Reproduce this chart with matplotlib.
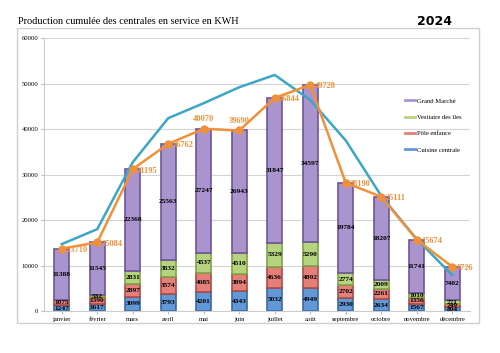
import numpy as np
import matplotlib.pyplot as plt
from matplotlib.patches import Rectangle

months = ["janvier", "février", "mars", "avril", "mai", "juin", "juillet",
          "août", "septembre", "octobre", "novembre", "décembre"]

# stacked series (bottom -> top)
cuisine = [1247, 1617, 3099, 3793, 4201, 4343, 5032, 4949, 2930, 2634, 1567, 804]
pole = [1075, 1390, 2897, 3574, 4085, 3894, 4636, 4892, 2702, 2261, 1356, 749]
vestiaire = [0, 532, 2831, 3832, 4537, 4510, 5329, 5290, 2774, 2009, 1010, 771]
grand_marche = [11388, 11545, 22368, 25563, 27247, 26943, 31847, 34597, 19784, 18207, 11741, 7402]

totals = [13710, 15084, 31195, 36762, 40070, 39690, 46844, 49728, 28190, 25111, 15674, 9726]
# second line (no labels in the original)
other_line = [14700, 18000, 32700, 42400, 45700, 49200, 51900, 46400, 37500, 25300, 15800, 7900]

series = [
    ("Cuisine centrale", cuisine, "#6398d6", "#3a6aa8"),
    ("Pôle enfance", pole, "#e4807a", "#b04a45"),
    ("Vestiaire des îles", vestiaire, "#b6d47f", "#7fa248"),
    ("Grand Marché", grand_marche, "#a994ce", "#6e5598"),
]

serif = ["Liberation Serif", "DejaVu Serif"]

fig = plt.figure(figsize=(5, 3.53), dpi=100)
ax = fig.add_axes([0.088, 0.119, 0.852, 0.773])

# outer chart frame
fig.patches.append(Rectangle((0.034, 0.085), 0.924, 0.836, transform=fig.transFigure,
                             fill=False, edgecolor="#cfcfcf", linewidth=1))

x = np.arange(len(months))
bottom = np.zeros(len(months))
handles = []
for name, vals, col, edge in series:
    vals = np.array(vals, dtype=float)
    ax.bar(x, vals, width=0.42, bottom=bottom, color=col, edgecolor=edge,
           linewidth=1.2, zorder=2)
    h, = ax.plot([], [], color=col, linewidth=2, label=name)
    handles.append(h)
    for xi, b, v in zip(x, bottom, vals):
        if v > 0:
            ax.text(xi, b + v / 2, f"{int(v)}", ha="center", va="center",
                    fontsize=5.3, fontweight="bold", family=serif, color="black", zorder=5)
    bottom += vals

ax.plot(x, other_line, color="#3ba7c5", linewidth=1.8, zorder=3)
ax.plot(x, totals, color="#f0913a", linewidth=1.8, marker="o", markersize=5,
        zorder=4)
for xi, t in zip(x, totals):
    if months[xi] in ("mai", "juin"):
        ax.annotate(f"{t}", (xi, t), xytext=(0, 4), textcoords="offset points",
                    ha="center", va="bottom", fontsize=6, fontweight="bold",
                    family=serif, color="#f0913a", zorder=6)
    else:
        ax.annotate(f"{t}", (xi, t), xytext=(3, -1), textcoords="offset points",
                    ha="left", va="center", fontsize=6, fontweight="bold",
                    family=serif, color="#f0913a", zorder=6)

ax.set_xlim(-0.5, len(months) - 0.5)
ax.set_ylim(0, 60000)
ax.set_yticks(range(0, 60001, 10000))
ax.set_xticks(x)
ax.set_xticklabels(months, family=serif, fontsize=4.8)
for lab in ax.get_yticklabels():
    lab.set_family(serif)
    lab.set_fontsize(4.8)
ax.tick_params(axis="both", length=2, color="#bbbbbb", pad=2)
ax.grid(axis="y", color="#d4d4d4", linewidth=0.8, zorder=0)
ax.set_axisbelow(True)
for s in ["top", "right"]:
    ax.spines[s].set_visible(False)
ax.spines["left"].set_color("#cccccc")
ax.spines["bottom"].set_color("#cccccc")

leg = ax.legend(handles=handles[::-1], loc="upper left", bbox_to_anchor=(0.84, 0.79),
                frameon=False, prop={"family": serif, "size": 4.8},
                handlelength=1.6, handletextpad=0.2, labelspacing=1.6, borderaxespad=0)

fig.text(0.036, 0.938, "Production cumulée des centrales en service en KWH",
         family=serif, fontsize=7.4, ha="left", va="center")
fig.text(0.868, 0.938, "2024", fontsize=9, fontweight="bold", ha="center", va="center")

fig.savefig("out.png", dpi=100)
